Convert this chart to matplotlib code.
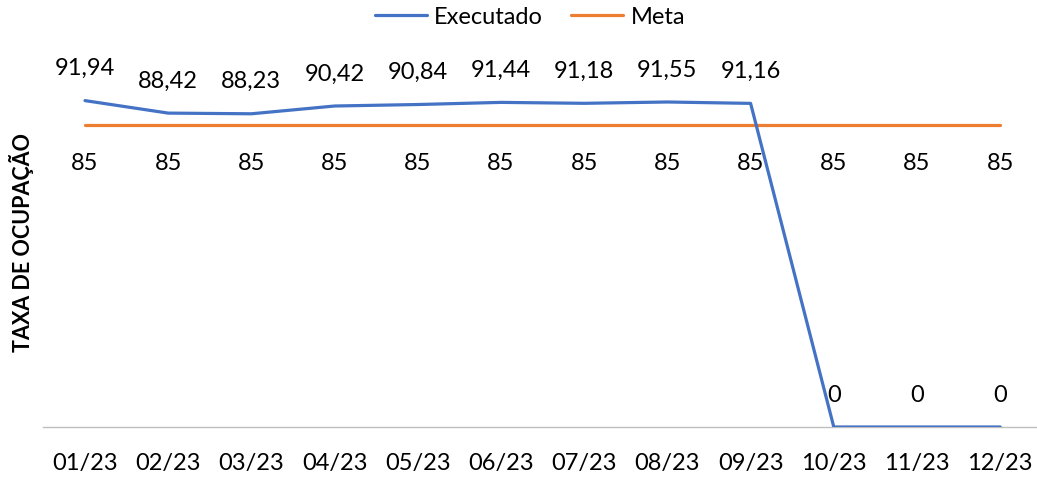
import matplotlib
matplotlib.use("Agg")
import matplotlib.pyplot as plt

months = ["01/23", "02/23", "03/23", "04/23", "05/23", "06/23",
          "07/23", "08/23", "09/23", "10/23", "11/23", "12/23"]
executado = [91.94, 88.42, 88.23, 90.42, 90.84, 91.44, 91.18, 91.55, 91.16, 0, 0, 0]
meta = [85] * 12

plt.rcParams['font.family'] = ['Lato', 'DejaVu Sans']

W, H = 1037, 479
fig = plt.figure(figsize=(W / 100, H / 100), dpi=100)
left, right = 43.4, 1041.8
bottom, top = 479 - 427, 479 - 72
ax = fig.add_axes([left / W, bottom / H, (right - left) / W, (top - bottom) / H])

x = list(range(len(months)))
blue = "#4472C4"
orange = "#ED7D31"
ax.plot(x, executado, color=blue, lw=2.3, label="Executado", solid_capstyle="round", zorder=3)
ax.plot(x, meta, color=orange, lw=2.3, label="Meta", solid_capstyle="round", zorder=2)

fs = 17
def fmt(v):
    return ("%g" % v).replace(".", ",")

for xi, v in zip(x, executado):
    ax.annotate(fmt(v), (xi, v), xytext=(0, 32), textcoords="offset pixels",
                ha="center", va="center", fontsize=fs, color="black")
for xi, v in zip(x, meta):
    ax.annotate(fmt(v), (xi, v), xytext=(0, -38), textcoords="offset pixels",
                ha="center", va="center", fontsize=fs, color="black")

ax.set_xlim(-0.5, 11.5)
ax.set_ylim(0, 100)
ax.set_xticks(x)
ax.set_xticklabels(months, fontsize=fs)
ax.tick_params(axis="x", length=0, pad=19)
ax.set_yticks([])
for s in ["top", "right", "left"]:
    ax.spines[s].set_visible(False)
ax.spines["bottom"].set_color("#BFBFBF")
ax.spines["bottom"].set_linewidth(1.0)
ax.spines["bottom"].set_zorder(1)

fig.text(22 / W, 1 - 243 / H, "TAXA DE OCUPAÇÃO", rotation=90, ha="center", va="center",
         fontsize=15.5, fontweight="bold")

leg = fig.legend(loc="center", bbox_to_anchor=(530 / W, 1 - 17 / H), ncol=2, frameon=False,
                 fontsize=fs, handlelength=2.2, columnspacing=1.2, handletextpad=0.3)

fig.savefig("out.png", dpi=100)
